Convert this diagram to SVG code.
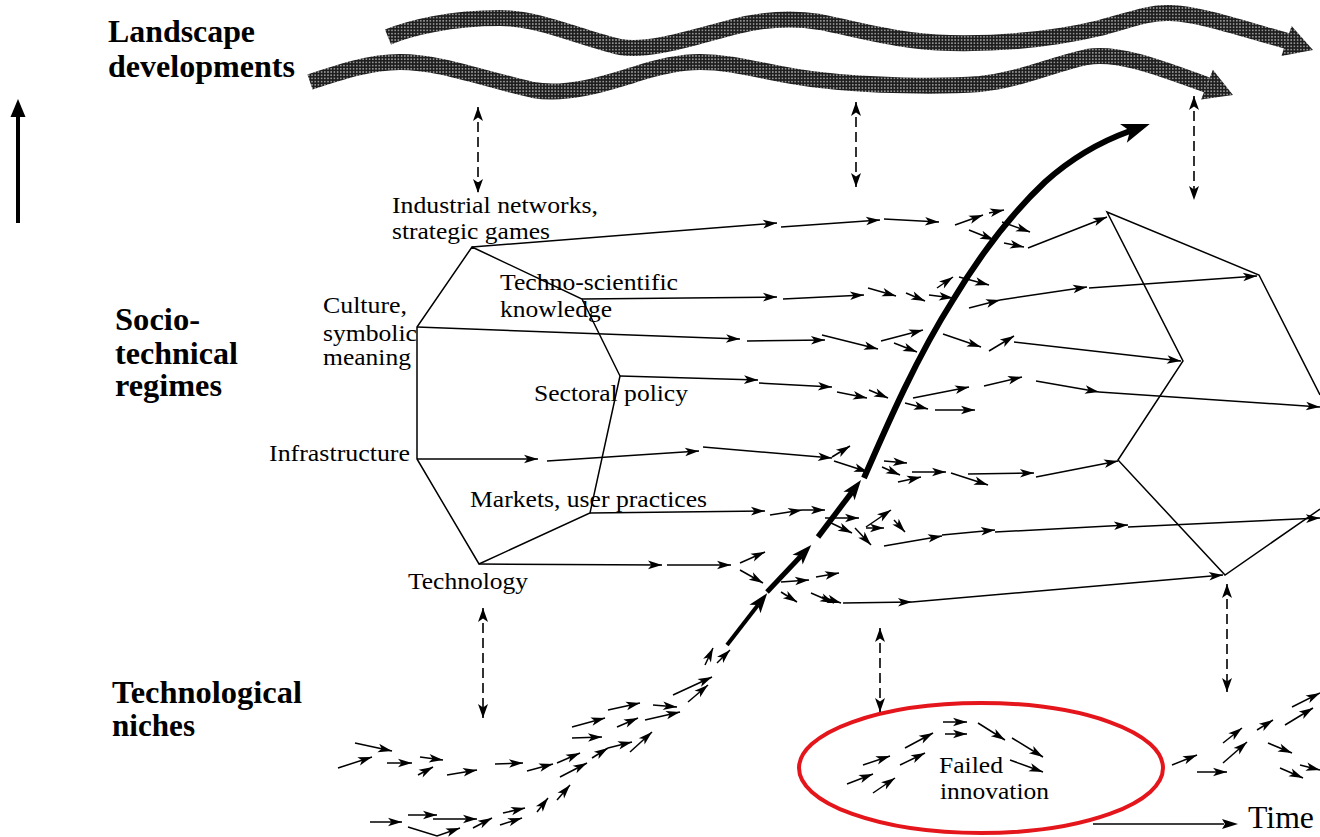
<svg xmlns="http://www.w3.org/2000/svg" width="1320" height="837" viewBox="0 0 1320 837">
<defs>
<pattern id="dots" width="3.2" height="3.2" patternUnits="userSpaceOnUse">
<rect width="3.2" height="3.2" fill="#1e1e1e"/>
<circle cx="1.6" cy="1.6" r="0.75" fill="#c8c8c8"/>
</pattern>
<marker id="h" markerUnits="userSpaceOnUse" markerWidth="14" markerHeight="9" refX="14" refY="4.3" orient="auto" overflow="visible">
<path d="M0,0 L14,4.3 L0,8.6 L3.5,4.3 z" fill="#000"/>
</marker>
<marker id="hd" markerUnits="userSpaceOnUse" markerWidth="14" markerHeight="10" refX="14" refY="5" orient="auto-start-reverse" overflow="visible">
<path d="M0,0 L14,5 L0,10 L3.5,5 z" fill="#000"/>
</marker>
<marker id="hb" markerUnits="userSpaceOnUse" markerWidth="20" markerHeight="14" refX="5" refY="7" orient="auto" overflow="visible">
<path d="M0,0 L20,7 L0,14 L5,7 z" fill="#000"/>
</marker>
<marker id="hbig" markerUnits="userSpaceOnUse" markerWidth="28" markerHeight="20" refX="7" refY="10" orient="auto" overflow="visible">
<path d="M0,0 L28,10 L0,20 L7,10 z" fill="#000"/>
</marker>
</defs>
<style>
.lbl{font-family:"Liberation Serif","Times New Roman",serif;font-size:23px;fill:#000}
.hd{font-family:"Liberation Serif","Times New Roman",serif;font-size:31px;font-weight:bold;fill:#000}
.ln{stroke:#000;stroke-width:1.5;fill:none}
.a{stroke:#000;stroke-width:1.5;fill:none;marker-end:url(#h)}
.dash{stroke:#000;stroke-width:1.6;fill:none;stroke-dasharray:10 5;marker-start:url(#hd);marker-end:url(#hd)}
.band{stroke:url(#dots);stroke-width:16;fill:none}
</style>
<rect width="1320" height="837" fill="#fff"/>

<g id="landscape-arrows">
<path class="band" d="M388,37 C410,28 450,18 500,18 C540,18 580,38 620,47 C650,52 690,38 733,27 C760,20 790,17 820,22 C860,30 900,42 950,43 C1000,44 1050,40 1100,28 C1130,20 1150,12 1170,13 C1200,14 1240,28 1287,41"/>
<polygon points="1313,50 1291.6,25.9 1281.4,56" fill="url(#dots)"/>
<path class="band" d="M310,82 C340,72 370,62 400,62 C440,62 480,78 533,90 C570,96 610,82 633,75 C660,66 680,62 700,62 C740,62 770,75 820,80 C870,86 940,87 980,84 C1020,80 1050,65 1087,57 C1120,52 1160,68 1207,85"/>
<polygon points="1233,95 1212.9,69.8 1201.1,99.4" fill="url(#dots)"/>
</g>

<g id="level-labels">
<text class="hd" x="108" y="42" textLength="147" lengthAdjust="spacingAndGlyphs">Landscape</text>
<text class="hd" x="108" y="77" textLength="187" lengthAdjust="spacingAndGlyphs">developments</text>
<text class="hd" x="115" y="330" textLength="85" lengthAdjust="spacingAndGlyphs">Socio-</text>
<text class="hd" x="115" y="364" textLength="123" lengthAdjust="spacingAndGlyphs">technical</text>
<text class="hd" x="115" y="396" textLength="107" lengthAdjust="spacingAndGlyphs">regimes</text>
<text class="hd" x="112" y="703" textLength="190" lengthAdjust="spacingAndGlyphs">Technological</text>
<text class="hd" x="112" y="736" textLength="83" lengthAdjust="spacingAndGlyphs">niches</text>
</g>

<g id="level-axis">
<line x1="18" y1="223" x2="18" y2="113" stroke="#000" stroke-width="4"/>
<polygon points="18,99 10.5,117 25.5,117" fill="#000"/>
</g>

<g id="regime-left">
<polygon class="ln" points="472,247 582,299 620,376 590,513 479,564 417,459 417,327"/>
<text class="lbl" x="392" y="213" textLength="206" lengthAdjust="spacingAndGlyphs">Industrial networks,</text>
<text class="lbl" x="392" y="239" textLength="158" lengthAdjust="spacingAndGlyphs">strategic games</text>
<text class="lbl" x="500" y="290" textLength="178" lengthAdjust="spacingAndGlyphs">Techno-scientific</text>
<text class="lbl" x="500" y="317" textLength="112" lengthAdjust="spacingAndGlyphs">knowledge</text>
<text class="lbl" x="323" y="313" textLength="84" lengthAdjust="spacingAndGlyphs">Culture,</text>
<text class="lbl" x="323" y="341" textLength="94" lengthAdjust="spacingAndGlyphs">symbolic</text>
<text class="lbl" x="323" y="365" textLength="88" lengthAdjust="spacingAndGlyphs">meaning</text>
<text class="lbl" x="534" y="401" textLength="154" lengthAdjust="spacingAndGlyphs">Sectoral policy</text>
<text class="lbl" x="269" y="461" textLength="141" lengthAdjust="spacingAndGlyphs">Infrastructure</text>
<text class="lbl" x="470" y="507" textLength="237" lengthAdjust="spacingAndGlyphs">Markets, user practices</text>
<text class="lbl" x="408" y="589" textLength="120" lengthAdjust="spacingAndGlyphs">Technology</text>
</g>

<g id="regime-right">
<polyline class="ln" points="1320,395 1259,275 1107,212 1183,361 1118,460 1225,575 1320,509"/>
</g>

<g id="failed-innovation">
<ellipse cx="981" cy="768" rx="182" ry="65" fill="none" stroke="#e4161c" stroke-width="4"/>
<text class="lbl" x="939" y="773" textLength="64" lengthAdjust="spacingAndGlyphs">Failed</text>
<text class="lbl" x="940" y="799" textLength="109" lengthAdjust="spacingAndGlyphs">innovation</text>
</g>

<g id="time-axis">
<line x1="1093" y1="824" x2="1224" y2="824" stroke="#000" stroke-width="1.5"/>
<polygon points="1238,824 1222,819 1225,824 1222,829" fill="#000"/>
<text class="lbl" x="1248" y="828" style="font-size:31px" textLength="66" lengthAdjust="spacingAndGlyphs">Time</text>
</g>

<g id="connectors">
<line class="dash" x1="478" y1="107" x2="478" y2="193"/>
<line class="dash" x1="856" y1="102" x2="856" y2="187"/>
<line class="dash" x1="1194" y1="96" x2="1194" y2="200"/>
<line class="dash" x1="483" y1="608" x2="483" y2="718"/>
<line class="dash" x1="880" y1="628" x2="880" y2="712"/>
<line class="dash" x1="1227" y1="584" x2="1227" y2="692"/>

<path class="a" d="M472,247 L777,223"/>
<path class="a" d="M781,227 L880,220"/>
<path class="a" d="M884,219 L939,222"/>
<path class="a" d="M955,225 L983,215"/>
<path class="a" d="M989,213 L1004,210"/>
<path class="a" d="M1002,222 L1030,232"/>
<path class="a" d="M969,230 L994,240"/>
<path class="a" d="M1004,243 L1024,247"/>
<path class="a" d="M1028,248 L1107,217"/>
<path class="a" d="M582,299 L777,297"/>
<path class="a" d="M783,299 L864,295"/>
<path class="a" d="M868,288 L896,296"/>
<path class="a" d="M906,293 L925,301"/>
<path class="a" d="M929,295 L953,298"/>
<path class="a" d="M937,288 L953,277"/>
<path class="a" d="M959,277 L989,285"/>
<path class="a" d="M969,308 L1000,300"/>
<path class="a" d="M1000,300 L1087,287"/>
<path class="a" d="M1089,288 L1257,276"/>
<path class="a" d="M417,327 L740,339"/>
<path class="a" d="M747,341 L825,340"/>
<path class="a" d="M822,335 L878,349"/>
<path class="a" d="M881,341 L923,330"/>
<path class="a" d="M894,343 L917,352"/>
<path class="a" d="M943,334 L981,347"/>
<path class="a" d="M989,351 L1014,336"/>
<path class="a" d="M1014,342 L1181,361"/>
<path class="a" d="M620,376 L758,380"/>
<path class="a" d="M759,383 L832,387"/>
<path class="a" d="M837,392 L867,398"/>
<path class="a" d="M869,390 L888,398"/>
<path class="a" d="M905,403 L928,409"/>
<path class="a" d="M913,398 L969,387"/>
<path class="a" d="M935,410 L975,410"/>
<path class="a" d="M984,386 L1022,377"/>
<path class="a" d="M1036,381 L1099,392"/>
<path class="a" d="M1099,392 L1320,407"/>
<path class="a" d="M417,459 L538,459"/>
<path class="a" d="M547,461 L699,451"/>
<path class="a" d="M703,447 L832,458"/>
<path class="a" d="M832,457 L850,446"/>
<path class="a" d="M834,461 L868,472"/>
<path class="a" d="M884,461 L907,463"/>
<path class="a" d="M882,467 L900,475"/>
<path class="a" d="M912,472 L946,472"/>
<path class="a" d="M898,482 L921,477"/>
<path class="a" d="M951,473 L988,485"/>
<path class="a" d="M968,474 L1034,473"/>
<path class="a" d="M1036,477 L1118,461"/>
<path class="a" d="M590,513 L765,511"/>
<path class="a" d="M770,515 L802,510"/>
<path class="a" d="M802,510 L825,510"/>
<path class="a" d="M825,518 L859,518"/>
<path class="a" d="M829,522 L852,533"/>
<path class="a" d="M855,528 L871,545"/>
<path class="a" d="M866,527 L891,510"/>
<path class="a" d="M866,528 L884,528"/>
<path class="a" d="M894,520 L905,532"/>
<path class="a" d="M884,546 L942,536"/>
<path class="a" d="M942,535 L995,530"/>
<path class="a" d="M995,532 L1128,525"/>
<path class="a" d="M1128,527 L1320,518"/>
<path class="a" d="M479,564 L662,565"/>
<path class="a" d="M667,565 L731,565"/>
<path class="a" d="M740,563 L765,552"/>
<path class="a" d="M740,570 L763,583"/>
<path class="a" d="M781,582 L809,580"/>
<path class="a" d="M816,577 L839,573"/>
<path class="a" d="M781,592 L797,602"/>
<path class="a" d="M811,593 L834,603"/>
<path class="a" d="M822,597 L841,603"/>
<path class="a" d="M843,603 L912,602"/>
<path class="a" d="M912,602 L1223,575"/>

<path d="M727,645 L758,605" stroke="#000" stroke-width="4" fill="none" marker-end="url(#hb)"/>
<path d="M767,592 L801,556" stroke="#000" stroke-width="5" fill="none" marker-end="url(#hb)"/>
<path d="M818,537 L852,492" stroke="#000" stroke-width="5.5" fill="none" marker-end="url(#hb)"/>
<path d="M864,478 C885,430 915,360 953,300 C980,255 1010,215 1045,182 C1075,155 1105,140 1130,131" stroke="#000" stroke-width="6" fill="none" marker-end="url(#hbig)"/>

<path class="a" d="M338,768 L372,757"/>
<path class="a" d="M355,743 L392,751"/>
<path class="a" d="M387,763 L412,763"/>
<path class="a" d="M420,757 L443,760"/>
<path class="a" d="M418,775 L433,767"/>
<path class="a" d="M447,775 L477,770"/>
<path class="a" d="M495,764 L523,763"/>
<path class="a" d="M527,771 L553,764"/>
<path class="a" d="M557,763 L580,753"/>
<path class="a" d="M560,777 L587,763"/>
<path class="a" d="M572,727 L605,718"/>
<path class="a" d="M572,738 L602,737"/>
<path class="a" d="M592,758 L608,748"/>
<path class="a" d="M608,748 L632,742"/>
<path class="a" d="M630,752 L652,732"/>
<path class="a" d="M608,710 L640,703"/>
<path class="a" d="M617,727 L638,718"/>
<path class="a" d="M645,720 L680,712"/>
<path class="a" d="M653,705 L677,707"/>
<path class="a" d="M673,695 L712,677"/>
<path class="a" d="M688,702 L708,685"/>
<path class="a" d="M705,665 L713,648"/>
<path class="a" d="M717,663 L730,650"/>
<path class="a" d="M370,822 L402,822"/>
<path class="a" d="M408,815 L437,815"/>
<path class="a" d="M433,819 L477,819"/>
<path class="a" d="M408,827 L437,836 L460,828"/>
<path class="a" d="M473,828 L492,818"/>
<path class="a" d="M500,825 L522,818"/>
<path class="a" d="M503,813 L525,808"/>
<path class="a" d="M537,812 L548,798"/>
<path class="a" d="M557,800 L570,785"/>
<path class="a" d="M847,784 L873,774"/>
<path class="a" d="M863,765 L890,756"/>
<path class="a" d="M873,793 L895,778"/>
<path class="a" d="M900,765 L925,753"/>
<path class="a" d="M905,748 L933,733"/>
<path class="a" d="M943,722 L967,722"/>
<path class="a" d="M945,734 L967,734"/>
<path class="a" d="M978,723 L1005,740"/>
<path class="a" d="M1012,738 L1043,757"/>
<path class="a" d="M1010,760 L1043,772"/>
<path class="a" d="M1172,765 L1197,755"/>
<path class="a" d="M1197,772 L1227,772"/>
<path class="a" d="M1223,763 L1247,742"/>
<path class="a" d="M1223,743 L1242,728"/>
<path class="a" d="M1257,730 L1273,720"/>
<path class="a" d="M1285,725 L1313,708"/>
<path class="a" d="M1292,707 L1320,693"/>
<path class="a" d="M1268,743 L1292,753"/>
<path class="a" d="M1280,768 L1303,778"/>
<path class="a" d="M1300,765 L1320,770"/>
</g>
</svg>
